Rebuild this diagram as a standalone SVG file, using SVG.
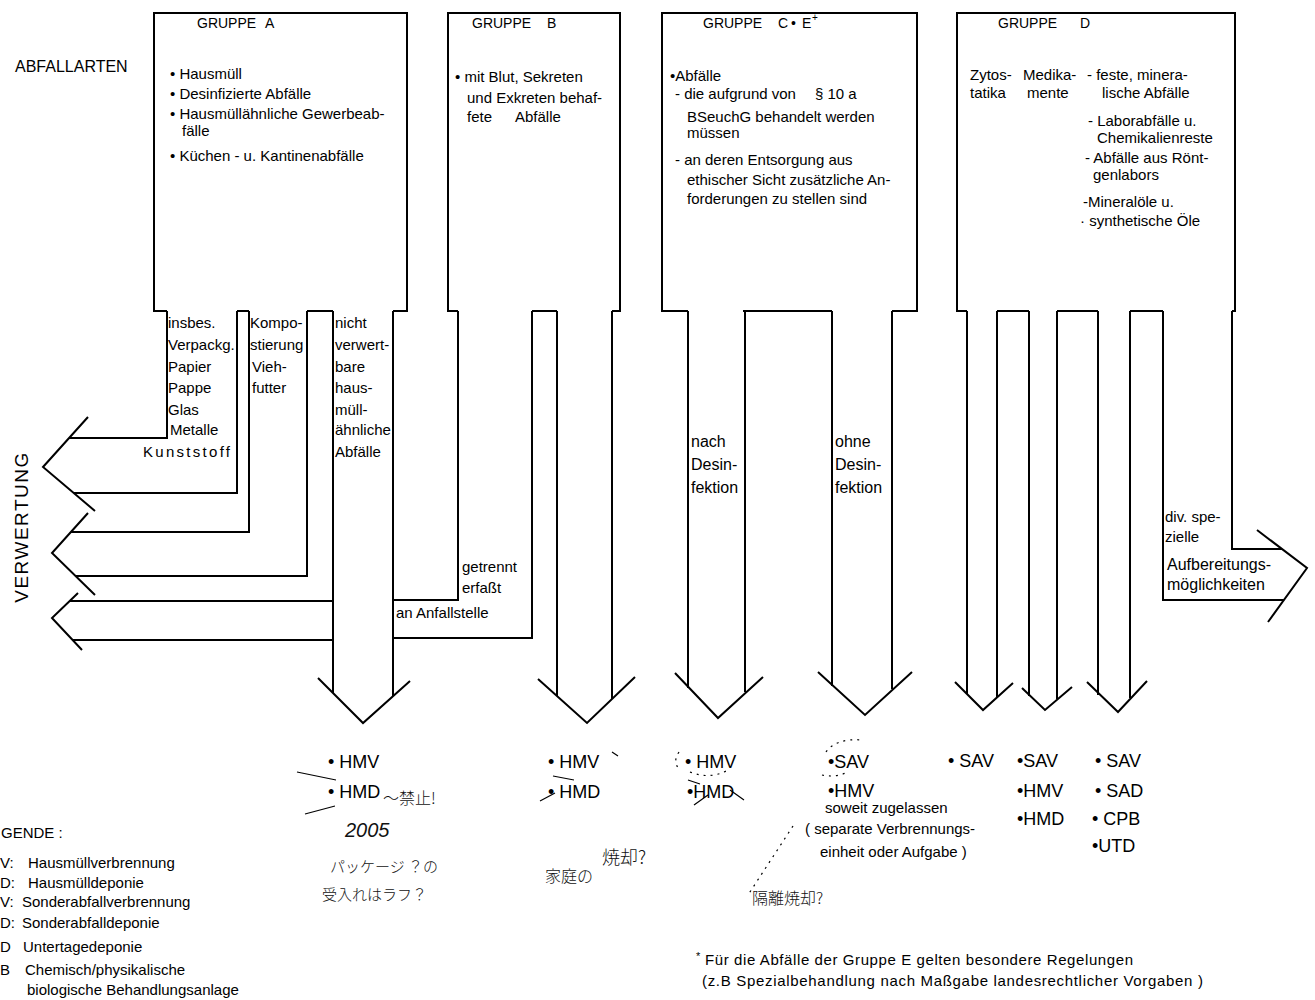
<svg xmlns="http://www.w3.org/2000/svg" width="1315" height="1000" viewBox="0 0 1315 1000">
<style>
.ln{fill:none;stroke:#000;stroke-width:2;stroke-linejoin:miter}
.an{fill:none;stroke:#000;stroke-width:1.2}
.dt{fill:none;stroke:#000;stroke-width:1.2;stroke-dasharray:2 5}
text{font-family:"Liberation Sans",Arial,sans-serif;font-size:15px;fill:#000}
.hd{font-size:14px}
.cc{font-size:16px}
.lab{font-size:18px}
.big{font-size:16px}
.vw{font-size:19px;letter-spacing:1.5px}
.hw{font-family:"Noto Sans CJK JP",sans-serif;font-size:16px;font-weight:300;fill:#111}
.hs{font-size:15px}
.hl{font-size:18px}
.num{font-family:"Liberation Sans",sans-serif;font-size:20px;font-style:italic;fill:#111}
</style>
<rect width="1315" height="1000" fill="#fff"/>

<text x="15" y="72" class="big">ABFALLARTEN</text>

<g id="gruppe-a">
<path class="ln" d="M167,311 H154 V13 H407 V311 H393 M237,311 H249 M307,311 H333"/>
<text x="197" y="28" class="hd">GRUPPE<tspan x="265">A</tspan></text>
<text x="170" y="79">• Hausmüll</text>
<text x="170" y="99">• Desinfizierte Abfälle</text>
<text x="170" y="119">• Hausmüllähnliche Gewerbeab-</text>
<text x="182" y="136">fälle</text>
<text x="170" y="161">• Küchen - u. Kantinenabfälle</text>
</g>

<g id="gruppe-b">
<path class="ln" d="M458,311 H448 V13 H620 V311 H612 M532,311 H557"/>
<text x="472" y="28" class="hd">GRUPPE<tspan x="547">B</tspan></text>
<text x="455" y="82">• mit Blut, Sekreten</text>
<text x="467" y="103">und Exkreten behaf-</text>
<text x="467" y="122">fete<tspan x="515">Abfälle</tspan></text>
</g>

<g id="gruppe-ce">
<path class="ln" d="M688,311 H662 V13 H917 V311 H892 M743,311 H832"/>
<text x="703" y="28" class="hd">GRUPPE<tspan x="778">C</tspan><tspan x="791">•</tspan><tspan x="802">E</tspan><tspan x="812" y="21" font-size="10">+</tspan></text>
<text x="670" y="81">•Abfälle</text>
<text x="675" y="99">- die aufgrund von<tspan x="815">§ 10 a</tspan></text>
<text x="687" y="122">BSeuchG behandelt werden</text>
<text x="687" y="138">müssen</text>
<text x="675" y="165">- an deren Entsorgung aus</text>
<text x="687" y="185">ethischer Sicht zusätzliche An-</text>
<text x="687" y="204">forderungen zu stellen sind</text>
</g>

<g id="gruppe-d">
<path class="ln" d="M967,311 H957 V13 H1235 V311 H1232 M997,311 H1029 M1057,311 H1098 M1130,311 H1163"/>
<text x="998" y="28" class="hd">GRUPPE<tspan x="1080">D</tspan></text>
<text x="970" y="80">Zytos-</text>
<text x="970" y="98">tatika</text>
<text x="1023" y="80">Medika-</text>
<text x="1027" y="98">mente</text>
<text x="1087" y="80">- feste, minera-</text>
<text x="1102" y="98">lische Abfälle</text>
<text x="1088" y="126">- Laborabfälle u.</text>
<text x="1097" y="143">Chemikalienreste</text>
<text x="1085" y="163">- Abfälle aus Rönt-</text>
<text x="1093" y="180">genlabors</text>
<text x="1083" y="207">-Mineralöle u.</text>
<text x="1080" y="226">· synthetische Öle</text>
</g>

<g id="connectors">
<path class="ln" d="M167,311 V438 H69 M237,311 V493 H74"/>
<path class="ln" d="M88,417 L43,467 L95,511"/>
<path class="ln" d="M249,311 V532 H71 M307,311 V576 H76"/>
<path class="ln" d="M88,513 L52,553 L95,595"/>
<path class="ln" d="M458,311 V600 H393 M333,601 H70 M532,311 V638 H393 M333,640 H73"/>
<path class="ln" d="M78,593 L52,618 L82,650"/>
<path class="ln" d="M333,311 V693 M393,311 V696"/>
<path class="ln" d="M318,678 L363,723 L410,681"/>
<path class="ln" d="M557,311 V696 M612,311 V699"/>
<path class="ln" d="M538,679 L587,723 L635,677"/>
<path class="ln" d="M688,311 V688 M745,311 V692"/>
<path class="ln" d="M675,673 L718,718 L763,677"/>
<path class="ln" d="M832,311 V686 M892,311 V689"/>
<path class="ln" d="M818,672 L865,715 L912,672"/>
<path class="ln" d="M967,311 V694 M997,311 V697"/>
<path class="ln" d="M955,682 L983,710 L1013,683"/>
<path class="ln" d="M1029,311 V696 M1057,311 V699"/>
<path class="ln" d="M1022,688 L1045,710 L1072,687"/>
<path class="ln" d="M1098,311 V695 M1130,311 V698"/>
<path class="ln" d="M1087,682 L1118,712 L1147,681"/>
<path class="ln" d="M1232,311 V549 H1282 M1163,311 V600 H1284"/>
<path class="ln" d="M1257,530 L1307,568 L1268,622"/>
</g>

<g id="channel-labels">
<text x="168" y="328">insbes.</text>
<text x="168" y="350">Verpackg.</text>
<text x="168" y="372">Papier</text>
<text x="168" y="393">Pappe</text>
<text x="168" y="415">Glas</text>
<text x="170" y="435">Metalle</text>
<text x="143" y="457" textLength="87">Kunststoff</text>
<text x="250" y="328">Kompo-</text>
<text x="250" y="350">stierung</text>
<text x="252" y="372">Vieh-</text>
<text x="252" y="393">futter</text>
<text x="335" y="328">nicht</text>
<text x="335" y="350">verwert-</text>
<text x="335" y="372">bare</text>
<text x="335" y="393">haus-</text>
<text x="335" y="415">müll-</text>
<text x="335" y="435">ähnliche</text>
<text x="335" y="457">Abfälle</text>
<text x="462" y="572">getrennt</text>
<text x="462" y="593">erfaßt</text>
<text x="396" y="618">an Anfallstelle</text>
<text x="691" y="447" class="cc">nach</text>
<text x="691" y="470" class="cc">Desin-</text>
<text x="691" y="493" class="cc">fektion</text>
<text x="835" y="447" class="cc">ohne</text>
<text x="835" y="470" class="cc">Desin-</text>
<text x="835" y="493" class="cc">fektion</text>
<text x="1165" y="522">div. spe-</text>
<text x="1165" y="542">zielle</text>
<text x="1167" y="570" class="cc">Aufbereitungs-</text>
<text x="1167" y="590" class="cc">möglichkeiten</text>
</g>

<text transform="translate(28,527) rotate(-90)" text-anchor="middle" class="vw">VERWERTUNG</text>

<g id="ziele">
<text x="328" y="768" class="lab">• HMV</text>
<text x="328" y="798" class="lab">• HMD</text>
<text x="548" y="768" class="lab">• HMV</text>
<text x="548" y="798" class="lab">• HMD</text>
<text x="685" y="768" class="lab">• HMV</text>
<text x="687" y="798" class="lab">•HMD</text>
<text x="828" y="768" class="lab">•SAV</text>
<text x="828" y="797" class="lab">•HMV</text>
<text x="825" y="813">soweit zugelassen</text>
<text x="805" y="834">( separate Verbrennungs-</text>
<text x="820" y="857">einheit oder Aufgabe )</text>
<text x="948" y="767" class="lab">• SAV</text>
<text x="1017" y="767" class="lab">•SAV</text>
<text x="1017" y="797" class="lab">•HMV</text>
<text x="1017" y="825" class="lab">•HMD</text>
<text x="1095" y="767" class="lab">• SAV</text>
<text x="1095" y="797" class="lab">• SAD</text>
<text x="1092" y="825" class="lab">• CPB</text>
<text x="1092" y="852" class="lab">•UTD</text>
</g>

<g id="legende">
<text x="1" y="838">GENDE :</text>
<text x="0" y="868">V:</text><text x="28" y="868">Hausmüllverbrennung</text>
<text x="0" y="888">D:</text><text x="28" y="888">Hausmülldeponie</text>
<text x="0" y="907">V:</text><text x="22" y="907">Sonderabfallverbrennung</text>
<text x="0" y="928">D:</text><text x="22" y="928">Sonderabfalldeponie</text>
<text x="0" y="952">D</text><text x="23" y="952">Untertagedeponie</text>
<text x="0" y="975">B</text><text x="25" y="975">Chemisch/physikalische</text>
<text x="27" y="995">biologische Behandlungsanlage</text>
</g>

<g id="fussnote">
<text x="696" y="960" style="font-size:11px">*</text>
<text x="705" y="965" textLength="428">Für die Abfälle der Gruppe E  gelten besondere Regelungen</text>
<text x="702" y="986" textLength="501">(z.B  Spezialbehandlung nach Maßgabe landesrechtlicher Vorgaben )</text>
</g>

<g id="handnotizen">
<path class="an" d="M297,772 L336,780 M305,814 L335,806"/>
<path class="an" d="M612,752 L618,756 M553,776 L574,780 M540,801 L555,793"/>
<path class="dt" d="M679,752 Q672,762 680,770 M690,772 Q710,780 728,770"/>
<path class="an" d="M688,780 L700,784 M694,805 L708,795 M730,790 L744,800"/>
<path class="dt" d="M826,752 Q836,738 862,740 M822,775 Q835,778 848,772"/>
<path class="dt" d="M793,826 L748,895"/>
<text x="383" y="804" class="hw">～禁止!</text>
<text x="345" y="837" class="num">2005</text>
<text x="330" y="872" class="hw hs">パッケージ ？の</text>
<text x="322" y="900" class="hw hs">受入れはラフ？</text>
<text x="545" y="882" class="hw">家庭の</text>
<text x="602" y="864" class="hw hl">焼却?</text>
<text x="752" y="904" class="hw">隔離焼却?</text>
</g>
</svg>
